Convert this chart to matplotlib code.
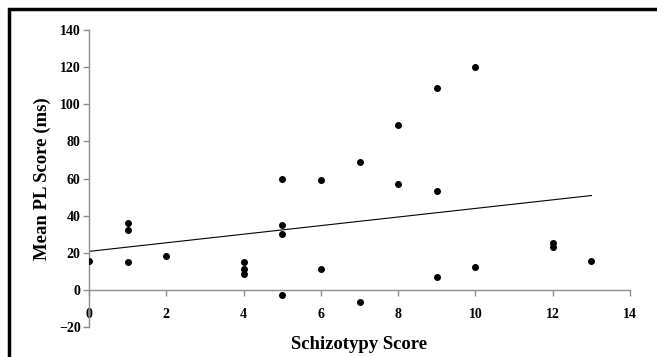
import numpy as np
import matplotlib.pyplot as plt
from matplotlib.patches import Rectangle

schizotypy = [0, 1, 1, 1, 2, 4, 4, 4, 5, 5, 5, 5, 6, 6, 7, 7, 8, 8, 9, 9, 9, 10, 10, 12, 12, 13]
mean_pl = [15.5, 36, 32.5, 15, 18, 15, 11, 8.5, 59.5, 35, 30, -2.5, 59, 11, 69, -6.5,
           89, 57, 108.5, 53, 7, 120, 12.5, 25, 23, 15.5]
xticks = [0, 2, 4, 6, 8, 10, 12, 14]
yticks = [-20, 0, 20, 40, 60, 80, 100, 120, 140]

plt.rcParams['font.family'] = 'Liberation Serif'
plt.rcParams['font.weight'] = 'bold'

fig = plt.figure(figsize=(6.57, 3.57), dpi=100)
ax = fig.add_axes([0.1355, 0.084, 0.8235, 0.832])

ax.scatter(schizotypy, mean_pl, s=16, color='black', zorder=3)

# linear trend line
slope, icpt = np.polyfit(schizotypy, mean_pl, 1)
xs = np.array([min(schizotypy), max(schizotypy)])
ax.plot(xs, icpt + slope * xs, color='black', lw=0.8)

ax.set_xlim(0, 14)
ax.set_ylim(-20, 140)
ax.set_xticks(xticks)
ax.set_yticks(yticks)

ax.spines['top'].set_visible(False)
ax.spines['right'].set_visible(False)
ax.spines['bottom'].set_position(('data', 0))
for s in ['left', 'bottom']:
    ax.spines[s].set_color('#8c8c8c')
    ax.spines[s].set_linewidth(1)
ax.tick_params(axis='both', colors='#8c8c8c', length=4, width=1, labelcolor='black', labelsize=10)
ax.tick_params(axis='x', pad=9)
ax.tick_params(axis='y', pad=2)

ax.set_xlabel('Schizotypy Score', fontsize=13.5, fontweight='bold')
ax.set_ylabel('Mean PL Score (ms)', fontsize=13.5, fontweight='bold', labelpad=6)
ax.xaxis.set_label_coords(0.5, -0.03)

# outer frame
fig.patches.append(Rectangle((0.0137, -0.1), 1.1, 1.075, transform=fig.transFigure,
                             fill=False, edgecolor='black', lw=2.5))

fig.savefig('out.png', dpi=100)
